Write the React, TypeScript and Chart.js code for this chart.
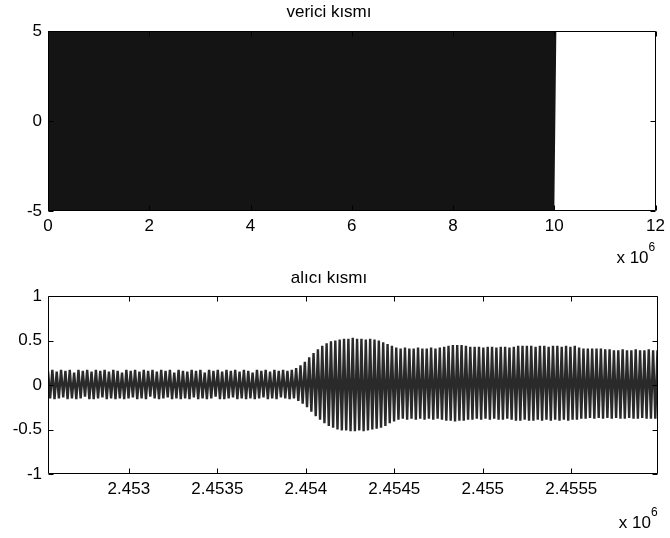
import React, { useEffect, useRef } from "react";
import { Chart, registerables } from "chart.js";

Chart.register(...registerables);

const FONT = '"Liberation Sans", Arial, Helvetica, sans-serif';

// ---------- data ----------
const TOP_TITLE = "verici kısmı";
const BOTTOM_TITLE = "alıcı kısmı";
const EXPONENT_TEXT = "x 10";
const EXPONENT_POWER = "6";

const TOP_X_TICKS = [0, 2, 4, 6, 8, 10, 12]; // x 10^6
const TOP_Y_TICKS = [-5, 0, 5];
const BOTTOM_X_TICKS = [2.453, 2.4535, 2.454, 2.4545, 2.455, 2.4555]; // x 10^6
const BOTTOM_Y_TICKS = [-1, -0.5, 0, 0.5, 1];

const TOP_X_RANGE = [0, 12e6];
const TOP_Y_RANGE = [-5, 5];
const BOTTOM_X_RANGE = [2452543, 2455990];
const BOTTOM_Y_RANGE = [-1, 1];

// transmitter signal (sample start / spacing, sampled peak values)
const TOP_START = 0;
const TOP_STEP = 40000;
const TOP_VALUES = [
  5, -5, 4.98, -5, 5, -4.97, 5, -5, 4.98, -5,
  5, -4.98, 5, -5, 4.97, -5, 5, -4.98, 5, -5,
  4.98, -5, 5, -4.97, 5, -5, 4.98, -5, 5, -4.98,
  5, -5, 4.97, -5, 5, -4.98, 5, -5, 4.98, -5,
  5, -4.97, 5, -5, 4.98, -5, 5, -4.98, 5, -5,
  4.97, -5, 5, -4.98, 5, -5, 4.98, -5, 5, -4.97,
  5, -5, 4.98, -5, 5, -4.98, 5, -5, 4.97, -5,
  5, -4.98, 5, -5, 4.98, -5, 5, -4.97, 5, -5,
  4.98, -5, 5, -4.98, 5, -5, 4.97, -5, 5, -4.98,
  5, -5, 4.98, -5, 5, -4.97, 5, -5, 4.98, -5,
  5, -4.98, 5, -5, 4.97, -5, 5, -4.98, 5, -5,
  4.98, -5, 5, -4.97, 5, -5, 4.98, -5, 5, -4.98,
  5, -5, 4.97, -5, 5, -4.98, 5, -5, 4.98, -5,
  5, -4.97, 5, -5, 4.98, -5, 5, -4.98, 5, -5,
  4.97, -5, 5, -4.98, 5, -5, 4.98, -5, 5, -4.97,
  5, -5, 4.98, -5, 5, -4.98, 5, -5, 4.97, -5,
  5, -4.98, 5, -5, 4.98, -5, 5, -4.97, 5, -5,
  4.98, -5, 5, -4.98, 5, -5, 4.97, -5, 5, -4.98,
  5, -5, 4.98, -5, 5, -4.97, 5, -5, 4.98, -5,
  5, -4.98, 5, -5, 4.97, -5, 5, -4.98, 5, -5,
  4.98, -5, 5, -4.97, 5, -5, 4.98, -5, 5, -4.98,
  5, -5, 4.97, -5, 5, -4.98, 5, -5, 4.98, -5,
  5, -4.97, 5, -5, 4.98, -5, 5, -4.98, 5, -5,
  4.97, -5, 5, -4.98, 5, -5, 4.98, -5, 5, -4.97,
  5, -5, 4.98, -5, 5, -4.98, 5, -5, 4.97, -5,
  5,
];

// receiver signal (sample start / spacing, sampled peak values)
const BOTTOM_START = 2452543;
const BOTTOM_STEP = 12.3;
const BOTTOM_VALUES = [
  0.16, -0.15, 0.17, -0.16, 0.15, -0.15, 0.17, -0.14, 0.16, -0.16,
  0.17, -0.15, 0.14, -0.16, 0.17, -0.15, 0.16, -0.13, 0.17, -0.16,
  0.15, -0.16, 0.17, -0.15, 0.16, -0.14, 0.17, -0.16, 0.15, -0.15,
  0.17, -0.16, 0.16, -0.15, 0.14, -0.16, 0.17, -0.15, 0.16, -0.14,
  0.17, -0.16, 0.15, -0.15, 0.17, -0.16, 0.16, -0.13, 0.17, -0.15,
  0.15, -0.16, 0.17, -0.15, 0.16, -0.14, 0.17, -0.16, 0.14, -0.15,
  0.17, -0.16, 0.16, -0.15, 0.15, -0.16, 0.17, -0.14, 0.16, -0.16,
  0.17, -0.15, 0.14, -0.16, 0.17, -0.15, 0.16, -0.13, 0.17, -0.16,
  0.15, -0.16, 0.17, -0.15, 0.16, -0.14, 0.17, -0.16, 0.15, -0.15,
  0.17, -0.16, 0.16, -0.15, 0.14, -0.16, 0.17, -0.15, 0.16, -0.14,
  0.17, -0.16, 0.15, -0.15, 0.17, -0.16, 0.16, -0.14, 0.17, -0.15,
  0.16, -0.16, 0.17, -0.15, 0.19, -0.18, 0.22, -0.21, 0.26, -0.25,
  0.31, -0.3, 0.36, -0.35, 0.4, -0.39, 0.44, -0.43, 0.47, -0.46,
  0.49, -0.48, 0.5, -0.5, 0.51, -0.51, 0.52, -0.51, 0.52, -0.52,
  0.53, -0.52, 0.52, -0.51, 0.52, -0.52, 0.51, -0.51, 0.52, -0.5,
  0.51, -0.49, 0.5, -0.48, 0.48, -0.46, 0.46, -0.43, 0.44, -0.41,
  0.42, -0.39, 0.41, -0.38, 0.42, -0.39, 0.41, -0.38, 0.41, -0.39,
  0.42, -0.38, 0.41, -0.39, 0.41, -0.38, 0.42, -0.39, 0.41, -0.38,
  0.42, -0.39, 0.43, -0.4, 0.44, -0.4, 0.45, -0.41, 0.45, -0.4,
  0.45, -0.4, 0.44, -0.39, 0.43, -0.39, 0.43, -0.38, 0.43, -0.39,
  0.42, -0.38, 0.43, -0.39, 0.43, -0.38, 0.42, -0.39, 0.43, -0.39,
  0.43, -0.38, 0.42, -0.39, 0.43, -0.4, 0.44, -0.4, 0.44, -0.39,
  0.44, -0.4, 0.44, -0.4, 0.43, -0.39, 0.44, -0.4, 0.44, -0.39,
  0.43, -0.4, 0.44, -0.39, 0.44, -0.4, 0.43, -0.39, 0.44, -0.4,
  0.43, -0.39, 0.44, -0.39, 0.42, -0.38, 0.41, -0.38, 0.41, -0.37,
  0.41, -0.38, 0.41, -0.37, 0.41, -0.38, 0.4, -0.37, 0.4, -0.38,
  0.39, -0.37, 0.39, -0.38, 0.4, -0.38, 0.39, -0.37, 0.39, -0.38,
  0.4, -0.38, 0.39, -0.37, 0.39, -0.38, 0.4, -0.38, 0.39, -0.38,
  0.39,
];

// ---------- plugin: MATLAB style box, inward ticks, exponent ----------
const matlabAxes = {
  id: "matlabAxes",
  afterDraw(chart: any, _args: any, opts: any) {
    const { ctx, chartArea: a, scales } = chart;
    const L = Math.round(a.left) + 0.5;
    const R = Math.round(a.right) - 0.5;
    const T = Math.round(a.top) + 0.5;
    const B = Math.round(a.bottom) - 0.5;
    const tl = 5;
    ctx.save();
    ctx.strokeStyle = "#000";
    ctx.lineWidth = 1;
    ctx.beginPath();
    ctx.rect(L, T, R - L, B - T);
    ctx.stroke();
    ctx.beginPath();
    for (const t of scales.x.ticks) {
      const px = Math.round(scales.x.getPixelForValue(t.value)) + 0.5;
      ctx.moveTo(px, B);
      ctx.lineTo(px, B - tl);
      ctx.moveTo(px, T);
      ctx.lineTo(px, T + tl);
    }
    for (const t of scales.y.ticks) {
      const py = Math.round(scales.y.getPixelForValue(t.value)) + 0.5;
      ctx.moveTo(L, py);
      ctx.lineTo(L + tl, py);
      ctx.moveTo(R, py);
      ctx.lineTo(R - tl, py);
    }
    ctx.stroke();
    // exponent label
    ctx.fillStyle = "#000";
    ctx.font = `17px ${FONT}`;
    ctx.textAlign = "right";
    ctx.textBaseline = "middle";
    const ey = a.bottom + opts.expOffset;
    ctx.fillText(EXPONENT_TEXT, a.right - 7, ey);
    ctx.font = `12px ${FONT}`;
    ctx.textAlign = "left";
    ctx.fillText(EXPONENT_POWER, a.right - 7, ey - 10);
    ctx.restore();
  },
};

type PanelProps = {
  title: string;
  values: number[];
  start: number;
  step: number;
  xRange: number[];
  yRange: number[];
  xTicks: number[];
  yTicks: number[];
  lineColor: string;
  lineWidth: number;
  height: number;
  axisHeight: number;
  titleTop: number;
  titleBottom: number;
  expOffset: number;
};

function fmt(v: number) {
  return String(parseFloat(v.toFixed(6)));
}

function Panel(p: PanelProps) {
  const ref = useRef<HTMLCanvasElement | null>(null);
  useEffect(() => {
    if (!ref.current) return;
    const points = p.values.map((v, i) => ({ x: p.start + i * p.step, y: v }));
    const chart = new Chart(ref.current, {
      type: "line",
      data: {
        datasets: [
          {
            data: points,
            borderColor: p.lineColor,
            borderWidth: p.lineWidth,
            pointRadius: 0,
            tension: 0,
            fill: false,
            clip: 0,
          } as any,
        ],
      },
      options: {
        animation: false,
        responsive: false,
        devicePixelRatio: 1,
        events: [],
        layout: { padding: { left: 0, right: 12, top: 0, bottom: 0 } },
        plugins: {
          legend: { display: false },
          tooltip: { enabled: false },
          title: {
            display: true,
            text: p.title,
            color: "#000",
            font: { family: FONT, size: 17, weight: "normal", lineHeight: "21px" },
            padding: { top: p.titleTop, bottom: p.titleBottom },
          },
          matlabAxes: { expOffset: p.expOffset },
        } as any,
        scales: {
          x: {
            type: "linear",
            min: p.xRange[0],
            max: p.xRange[1],
            grid: { display: false, drawTicks: false },
            border: { display: false },
            afterBuildTicks: (s: any) => {
              s.ticks = p.xTicks.map((v) => ({ value: v * 1e6 }));
            },
            afterFit: (s: any) => {
              s.height = p.axisHeight;
            },
            ticks: {
              color: "#000",
              padding: 5,
              maxRotation: 0,
              autoSkip: false,
              font: { family: FONT, size: 17 },
              callback: (v: any) => fmt(Number(v) / 1e6),
            },
          },
          y: {
            type: "linear",
            min: p.yRange[0],
            max: p.yRange[1],
            grid: { display: false, drawTicks: false },
            border: { display: false },
            afterBuildTicks: (s: any) => {
              s.ticks = p.yTicks.map((v) => ({ value: v }));
            },
            afterFit: (s: any) => {
              s.width = 48;
            },
            ticks: {
              color: "#000",
              padding: 6,
              autoSkip: false,
              font: { family: FONT, size: 17 },
              callback: (v: any) => fmt(Number(v)),
            },
          },
        },
      },
      plugins: [matlabAxes as any],
    });
    return () => chart.destroy();
  }, []);
  return (
    <canvas
      ref={ref}
      width={670}
      height={p.height}
      style={{ display: "block", width: 670, height: p.height }}
    />
  );
}

export default function App() {
  return (
    <div
      style={{
        position: "absolute",
        left: 0,
        top: 0,
        width: 670,
        height: 538,
        background: "#fff",
      }}
    >
      <Panel
        title={TOP_TITLE}
        values={TOP_VALUES}
        start={TOP_START}
        step={TOP_STEP}
        xRange={TOP_X_RANGE}
        yRange={TOP_Y_RANGE}
        xTicks={TOP_X_TICKS}
        yTicks={TOP_Y_TICKS}
        lineColor="#141414"
        lineWidth={4.1}
        height={268}
        axisHeight={57}
        titleTop={2}
        titleBottom={8}
        expOffset={47}
      />
      <Panel
        title={BOTTOM_TITLE}
        values={BOTTOM_VALUES}
        start={BOTTOM_START}
        step={BOTTOM_STEP}
        xRange={BOTTOM_X_RANGE}
        yRange={BOTTOM_Y_RANGE}
        xTicks={BOTTOM_X_TICKS}
        yTicks={BOTTOM_Y_TICKS}
        lineColor="#2a2a2a"
        lineWidth={2.4}
        height={270}
        axisHeight={64}
        titleTop={0}
        titleBottom={7}
        expOffset={49}
      />
    </div>
  );
}
